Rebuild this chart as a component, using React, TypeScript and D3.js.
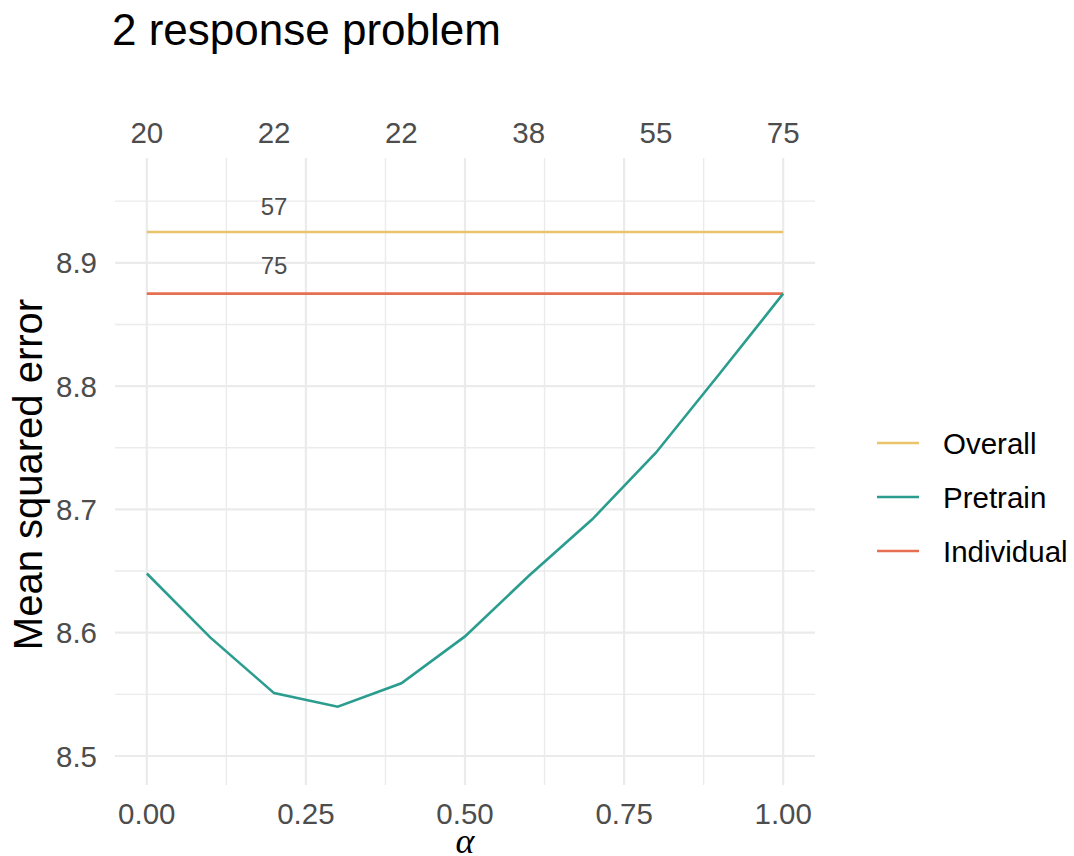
import React from "react";
import * as d3 from "d3";

const alphas = [0, 0.1, 0.2, 0.3, 0.4, 0.5, 0.6, 0.7, 0.8, 0.9, 1.0];
const pretrain = [8.648, 8.596, 8.551, 8.540, 8.559, 8.597, 8.646, 8.692, 8.746, 8.810, 8.875];
const overallValue = 8.925;
const individualValue = 8.875;
const topTickPositions = [0, 0.2, 0.4, 0.6, 0.8, 1.0];
const topTickLabels = ["20", "22", "22", "38", "55", "75"];
const bottomTicks = [0, 0.25, 0.5, 0.75, 1.0];
const bottomMinor = [0.125, 0.375, 0.625, 0.875];
const yTicks = [8.5, 8.6, 8.7, 8.8, 8.9];
const yMinor = [8.55, 8.65, 8.75, 8.85, 8.95];
const annotations = [
  { label: "57", x: 0.2, y: overallValue + 0.021 },
  { label: "75", x: 0.2, y: individualValue + 0.023 },
];
const seriesNames = ["Overall", "Pretrain", "Individual"];
const seriesColors = ["#e9c46a", "#2a9d8f", "#e76f51"];

const W = 1074;
const H = 856;
const FONT = "'Liberation Sans', Arial, Helvetica, sans-serif";

export default function App() {
  const x = d3.scaleLinear().domain([-0.05, 1.05]).range([115, 815]);
  const y = d3.scaleLinear().domain([8.4765, 8.985]).range([785, 158]);
  const line = d3
    .line<number>()
    .x((_, i) => x(alphas[i]))
    .y((d) => y(d));
  const hline = (v: number) =>
    d3.line<number>().x((a) => x(a)).y(() => y(v))([alphas[0], alphas[alphas.length - 1]]) || "";

  const [x0, x1] = x.range();
  const [yb, yt] = y.range();
  const grid = "#ebebeb";

  return (
    <svg
      width={W}
      height={H}
      style={{ position: "absolute", left: 0, top: 0, background: "#fff" }}
      fontFamily={FONT}
    >
      {/* minor grid */}
      {yMinor.map((v) => (
        <line key={"ym" + v} x1={x0} x2={x1} y1={y(v)} y2={y(v)} stroke={grid} strokeWidth={1.4} />
      ))}
      {bottomMinor.map((v) => (
        <line key={"xm" + v} x1={x(v)} x2={x(v)} y1={yb} y2={yt} stroke={grid} strokeWidth={1.4} />
      ))}
      {/* major grid */}
      {yTicks.map((v) => (
        <line key={"yM" + v} x1={x0} x2={x1} y1={y(v)} y2={y(v)} stroke={grid} strokeWidth={2.2} />
      ))}
      {bottomTicks.map((v) => (
        <line key={"xM" + v} x1={x(v)} x2={x(v)} y1={yb} y2={yt} stroke={grid} strokeWidth={2.2} />
      ))}

      {/* lines */}
      <path d={hline(overallValue)} fill="none" stroke={seriesColors[0]} strokeWidth={2.6} />
      <path d={hline(individualValue)} fill="none" stroke={seriesColors[2]} strokeWidth={2.6} />
      <path d={line(pretrain) || ""} fill="none" stroke={seriesColors[1]} strokeWidth={2.6} />

      {/* annotations */}
      {annotations.map((a, i) => (
        <text
          key={"an" + i}
          x={x(a.x)}
          y={y(a.y)}
          textAnchor="middle"
          dominantBaseline="central"
          fontSize={24}
          fill="#4d4d4d"
        >
          {a.label}
        </text>
      ))}

      {/* y ticks */}
      {yTicks.map((v) => (
        <text key={"yt" + v} x={97} y={y(v)} textAnchor="end" dominantBaseline="central" fontSize={29.5} fill="#4d4d4d">
          {v.toFixed(1)}
        </text>
      ))}
      {/* bottom ticks */}
      {bottomTicks.map((v) => (
        <text key={"bt" + v} x={x(v)} y={824} textAnchor="middle" fontSize={29.5} fill="#4d4d4d">
          {v.toFixed(2)}
        </text>
      ))}
      {/* top ticks */}
      {topTickPositions.map((v, i) => (
        <text key={"tt" + i} x={x(v)} y={143} textAnchor="middle" fontSize={29.5} fill="#4d4d4d">
          {topTickLabels[i]}
        </text>
      ))}

      {/* axis titles */}
      <text
        transform={`translate(42, ${(yb + yt) / 2 + 3}) rotate(-90)`}
        textAnchor="middle"
        fontSize={40}
        fill="#000"
      >
        Mean squared error
      </text>
      <text
        x={(x0 + x1) / 2}
        y={853}
        textAnchor="middle"
        fontSize={36}
        fontStyle="italic"
        fontFamily="'Liberation Serif', 'Times New Roman', serif"
        fill="#000"
      >
        α
      </text>

      {/* title */}
      <text x={112} y={45} fontSize={44} fill="#000">
        2 response problem
      </text>

      {/* legend */}
      {seriesNames.map((n, i) => {
        const ly = 443 + i * 54;
        return (
          <g key={"lg" + n}>
            <line x1={877} x2={919} y1={ly} y2={ly} stroke={seriesColors[i]} strokeWidth={2.6} />
            <text x={943} y={ly} dominantBaseline="central" fontSize={29.5} fill="#000">
              {n}
            </text>
          </g>
        );
      })}
    </svg>
  );
}
